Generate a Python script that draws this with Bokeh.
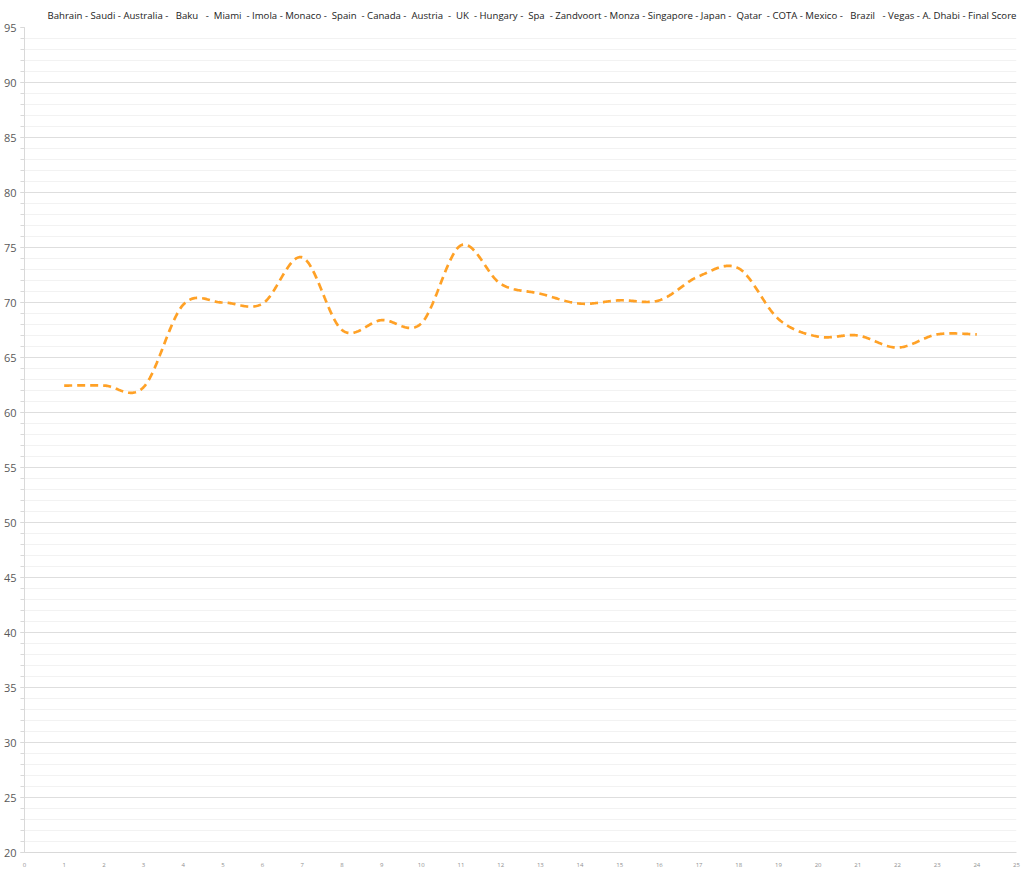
import numpy as np
from bokeh.plotting import figure
from bokeh.models import Range1d, SingleIntervalTicker, Title
from bokeh.embed import file_html
from bokeh.resources import INLINE

# ---- data ----
races = ["Bahrain", "Saudi", "Australia", "Baku", "Miami", "Imola", "Monaco", "Spain",
         "Canada", "Austria", "UK", "Hungary", "Spa", "Zandvoort", "Monza", "Singapore",
         "Japan", "Qatar", "COTA", "Mexico", "Brazil", "Vegas", "A. Dhabi", "Final Score"]
race_index = list(range(1, 25))
scores = [62.45, 62.45, 62.3, 69.8, 70.0, 69.9, 74.1, 67.5, 68.4, 68.1, 75.2, 71.7,
          70.8, 69.9, 70.2, 70.2, 72.4, 73.1, 68.5, 66.9, 67.0, 65.9, 67.1, 67.1]
title_text = ("Bahrain - Saudi - Australia -   Baku   -  Miami  - Imola - Monaco -  Spain  - Canada -  Austria  -  UK  - Hungary -  Spa  "
              "- Zandvoort - Monza - Singapore - Japan -  Qatar  - COTA - Mexico -   Brazil   - Vegas - A. Dhabi - Final Score")


def smooth(xs, ys, n=40):
    """Catmull-Rom style cubic Bezier smoothing (like a spreadsheet 'smoothed line')."""
    xs = np.asarray(xs, float)
    ys = np.asarray(ys, float)
    px = np.concatenate([[xs[0]], xs, [xs[-1]]])
    py = np.concatenate([[ys[0]], ys, [ys[-1]]])
    ox, oy = [], []
    t = np.linspace(0, 1, n)
    for i in range(1, len(px) - 2):
        x0, x1, x2, x3 = px[i - 1], px[i], px[i + 1], px[i + 2]
        y0, y1, y2, y3 = py[i - 1], py[i], py[i + 1], py[i + 2]
        c1x, c1y = x1 + (x2 - x0) / 6, y1 + (y2 - y0) / 6
        c2x, c2y = x2 - (x3 - x1) / 6, y2 - (y3 - y1) / 6
        bx = (1 - t) ** 3 * x1 + 3 * (1 - t) ** 2 * t * c1x + 3 * (1 - t) * t ** 2 * c2x + t ** 3 * x2
        by = (1 - t) ** 3 * y1 + 3 * (1 - t) ** 2 * t * c1y + 3 * (1 - t) * t ** 2 * c2y + t ** 3 * y2
        if i > 1:
            bx, by = bx[1:], by[1:]
        ox.extend(bx)
        oy.extend(by)
    return ox, oy


p = figure(frame_width=992, frame_height=825, output_backend="svg", toolbar_location=None,
           x_range=Range1d(0, 25), y_range=Range1d(20, 95),
           min_border_left=0, min_border_right=10, min_border_top=0, min_border_bottom=0)

p.title = Title(text=title_text.replace(" ", "\u00a0"), text_font="Open Sans", text_font_size="9.6px",
                text_font_style="normal", text_color="#222222", align="left",
                offset=23, standoff=12)

sx, sy = smooth(race_index, scores)
p.line(sx, sy, line_color="#FFA126", line_width=2.7, line_dash="8 5")

# y axis
p.yaxis.ticker = SingleIntervalTicker(interval=5, num_minor_ticks=5)
p.yaxis.major_label_text_font = "Open Sans"
p.yaxis.major_label_text_font_size = "11px"
p.yaxis.major_label_text_color = "#595959"
p.yaxis.axis_line_color = "#d9d9d9"
p.yaxis.major_tick_line_color = "#d9d9d9"
p.yaxis.minor_tick_line_color = "#d9d9d9"
p.yaxis.major_tick_out = 4
p.yaxis.major_tick_in = 0
p.yaxis.minor_tick_out = 4
p.yaxis.minor_tick_in = 0
p.yaxis.major_label_standoff = 4

# x axis
p.xaxis.ticker = SingleIntervalTicker(interval=1, num_minor_ticks=0)
p.xaxis.major_label_text_font = "Open Sans"
p.xaxis.major_label_text_font_size = "6px"
p.xaxis.major_label_text_color = "#909090"
p.xaxis.axis_line_color = "#d9d9d9"
p.xaxis.major_tick_line_color = None
p.xaxis.minor_tick_line_color = None
p.xaxis.major_label_standoff = 4

# grids
p.xgrid.grid_line_color = None
p.ygrid.grid_line_color = "#dedede"
p.ygrid.minor_grid_line_color = "#f2f2f2"
p.outline_line_color = None
p.background_fill_color = "white"
p.border_fill_color = "white"

open("out.html", "w").write(file_html(p, INLINE))
